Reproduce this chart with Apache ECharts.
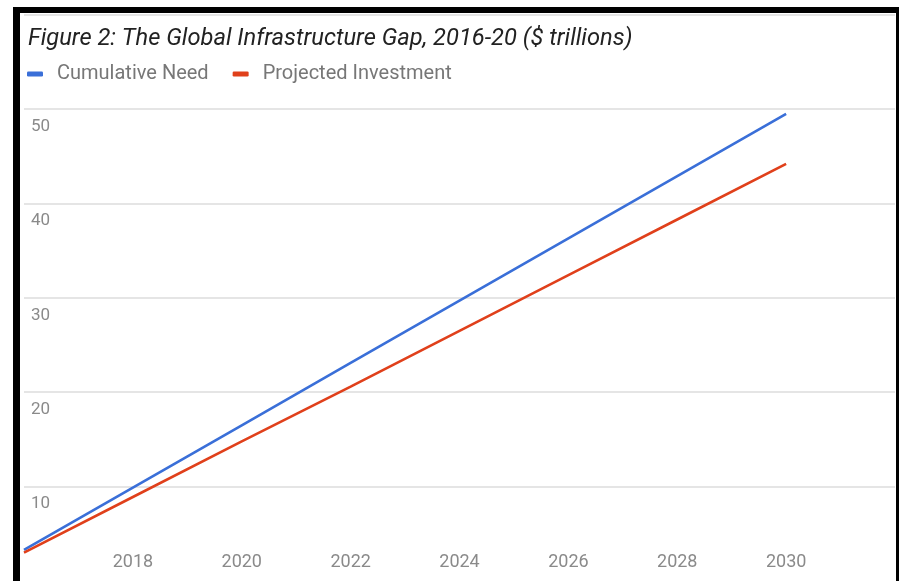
<!DOCTYPE html>
<html>
<head>
<meta charset="utf-8">
<script src="https://cdn.jsdelivr.net/npm/echarts@6/dist/echarts.min.js"></script>
<style>
html,body{margin:0;padding:0;background:#fff;}
#chart{width:899px;height:581px;}
</style>
</head>
<body>
<div id="chart"></div>
<script>
const titleText = 'Figure 2: The Global Infrastructure Gap, 2016-20 ($ trillions)';
const seriesNames = ['Cumulative Need', 'Projected Investment'];
const years = [2016, 2018, 2020, 2022, 2024, 2026, 2028, 2030];
const cumulativeNeed = [3.3, 9.9, 16.5, 23.1, 29.7, 36.3, 42.9, 49.5];
const projectedInvestment = [3.0, 8.9, 14.8, 20.6, 26.5, 32.4, 38.3, 44.2];
const xTickLabels = [2018, 2020, 2022, 2024, 2026, 2028, 2030];
const yTickLabels = [10, 20, 30, 40, 50];

const chart = echarts.init(document.getElementById('chart'));
chart.setOption({
  animation: false,
  backgroundColor: '#fff',
  title: {
    text: titleText,
    left: 23,
    top: 22,
    textStyle: {fontFamily: 'Roboto', fontStyle: 'italic', fontWeight: 'normal', fontSize: 23.7, color: '#222'}
  },
  legend: {
    left: 22,
    top: 59,
    icon: 'roundRect',
    itemWidth: 16,
    itemHeight: 5,
    itemGap: 24,
    textStyle: {fontFamily: 'Roboto', fontSize: 20, color: '#777', padding: [0, 0, 0, 9]},
    data: seriesNames
  },
  grid: {left: 24, right: 4, top: 14.7, height: 567.6, containLabel: false},
  xAxis: {
    type: 'value',
    min: 2016,
    max: 2032,
    interval: 2,
    axisLine: {show: false},
    axisTick: {show: false},
    splitLine: {show: false},
    axisLabel: {
      inside: true,
      margin: 10,
      fontFamily: 'Roboto',
      fontSize: 18,
      color: '#8a8a8a',
      formatter: v => xTickLabels.includes(v) ? String(v) : ''
    }
  },
  yAxis: {
    type: 'value',
    min: 0,
    max: 60,
    interval: 10,
    axisLine: {show: false},
    axisTick: {show: false},
    splitLine: {show: true, showMinLine: false, lineStyle: {color: '#dcdcdc', width: 1.5}},
    axisLabel: {
      inside: true,
      margin: 7,
      fontFamily: 'Roboto',
      fontSize: 17,
      color: '#8a8a8a',
      verticalAlign: 'top',
      padding: [9, 0, 0, 0],
      formatter: v => yTickLabels.includes(v) ? String(v) : ''
    }
  },
  series: [
    {
      name: seriesNames[0],
      type: 'line',
      data: years.map((y, i) => [y, cumulativeNeed[i]]),
      showSymbol: false,
      symbol: 'none',
      lineStyle: {color: '#3a6fd8', width: 2.6},
      itemStyle: {color: '#3a6fd8'}
    },
    {
      name: seriesNames[1],
      type: 'line',
      data: years.map((y, i) => [y, projectedInvestment[i]]),
      showSymbol: false,
      symbol: 'none',
      lineStyle: {color: '#e0401b', width: 2.6},
      itemStyle: {color: '#e0401b'}
    }
  ],
  graphic: [
    {type: 'rect', shape: {x: 13, y: 7, width: 7, height: 574}, style: {fill: '#000'}, z: 100},
    {type: 'rect', shape: {x: 13, y: 7, width: 886, height: 6}, style: {fill: '#000'}, z: 100},
    {type: 'rect', shape: {x: 896, y: 7, width: 3, height: 574}, style: {fill: '#000'}, z: 100}
  ]
});
</script>
</body>
</html>
